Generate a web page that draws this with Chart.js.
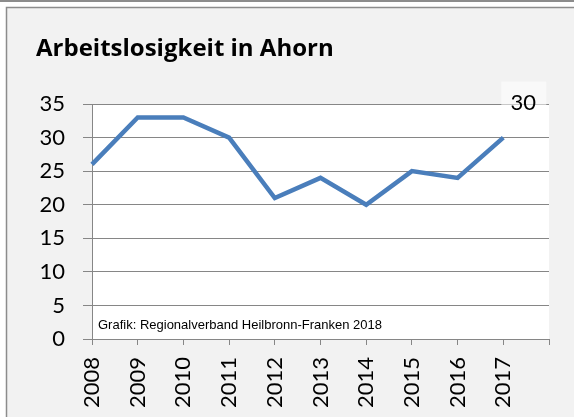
<!DOCTYPE html>
<html>
<head>
<meta charset="utf-8">
<script src="https://cdn.jsdelivr.net/npm/chart.js@4.4.0/dist/chart.umd.min.js"></script>
<style>
  html, body { margin: 0; padding: 0; background: #fff; }
  #wrap { width: 574px; height: 417px; }
</style>
</head>
<body>
<div id="wrap"><canvas id="chart" width="574" height="417"></canvas></div>
<script>
// data
var years = ['2008', '2009', '2010', '2011', '2012', '2013', '2014', '2015', '2016', '2017', ''];
var jobless = [26, 33, 33, 30, 21, 24, 20, 25, 24, 30];
var yMin = 0;
var yMax = 35;
var yStep = 5;
var chartTitle = 'Arbeitslosigkeit in Ahorn';
var sourceNote = 'Grafik: Regionalverband Heilbronn-Franken 2018';

var gridColor = '#868686';
var lineColor = '#4a7ebb';

// frame, grey panel and white plot area
var backdrop = {
    id: 'backdrop',
    beforeDraw: function (chart) {
        var ctx = chart.ctx;
        var area = chart.chartArea;
        ctx.save();
        ctx.fillStyle = '#fff';
        ctx.fillRect(0, 0, chart.width, chart.height);
        ctx.fillStyle = '#8c8c8c';
        ctx.fillRect(0, 0, chart.width, 2);
        ctx.fillStyle = '#f2f2f2';
        ctx.fillRect(7, 8, chart.width - 7, chart.height - 8);
        ctx.strokeStyle = '#8c8c8c';
        ctx.lineWidth = 1.5;
        ctx.beginPath();
        ctx.moveTo(6.5, chart.height + 2);
        ctx.lineTo(6.5, 7.5);
        ctx.lineTo(chart.width + 2, 7.5);
        ctx.stroke();
        ctx.fillStyle = '#fff';
        ctx.fillRect(area.left, area.top, area.right - area.left, area.bottom - area.top);
        // title
        ctx.fillStyle = '#000';
        ctx.font = 'bold 24px "Open Sans"';
        ctx.textAlign = 'left';
        ctx.textBaseline = 'alphabetic';
        ctx.fillText(chartTitle, 36, 56);
        ctx.restore();
    }
};

// source note and the value label of the last point
var notes = {
    id: 'notes',
    afterDatasetsDraw: function (chart) {
        var ctx = chart.ctx;
        var area = chart.chartArea;
        var meta = chart.getDatasetMeta(0);
        var last = jobless.length - 1;
        var pt = meta.data[last];
        ctx.save();
        ctx.fillStyle = '#000';
        ctx.font = '13px "Liberation Sans"';
        ctx.textAlign = 'left';
        ctx.textBaseline = 'alphabetic';
        ctx.fillText(sourceNote, area.left + 6, area.bottom - 10);

        var cx = pt.x + 20;
        var cy = pt.y - 35;
        ctx.fillStyle = 'rgba(255,255,255,0.55)';
        ctx.fillRect(cx - 22, cy - 21, 45, 32);
        ctx.fillStyle = '#000';
        ctx.font = '22px Lato';
        ctx.textAlign = 'center';
        ctx.textBaseline = 'middle';
        ctx.fillText(String(jobless[last]), cx, cy);
        ctx.restore();
    }
};

new Chart(document.getElementById('chart'), {
    type: 'line',
    data: {
        labels: years,
        datasets: [{
            data: jobless,
            borderColor: lineColor,
            borderWidth: 4.5,
            pointRadius: 0,
            tension: 0,
            fill: false
        }]
    },
    options: {
        responsive: false,
        animation: false,
        layout: { padding: { top: 104, right: 25, left: 0, bottom: 0 } },
        plugins: {
            legend: { display: false },
            tooltip: { enabled: false },
            title: { display: false }
        },
        scales: {
            x: {
                offset: false,
                grid: { display: true, drawOnChartArea: false, drawTicks: true, tickLength: 6, color: gridColor },
                border: { display: true, color: gridColor },
                ticks: {
                    autoSkip: false,
                    minRotation: 90,
                    maxRotation: 90,
                    padding: 12,
                    color: '#000',
                    font: { family: 'Lato', size: 22 }
                },
                afterFit: function (scale) {
                    scale.height = 78;
                    scale.paddingLeft = 0;
                    scale.paddingRight = 0;
                }
            },
            y: {
                min: yMin,
                max: yMax,
                grid: { color: gridColor, tickLength: 9 },
                border: { display: true, color: gridColor },
                ticks: {
                    stepSize: yStep,
                    padding: 18,
                    color: '#000',
                    font: { family: 'Lato', size: 22 }
                },
                afterFit: function (scale) {
                    scale.width = 92;
                    scale.paddingTop = 0;
                    scale.paddingBottom = 0;
                }
            }
        }
    },
    plugins: [backdrop, notes]
});
</script>
</body>
</html>
